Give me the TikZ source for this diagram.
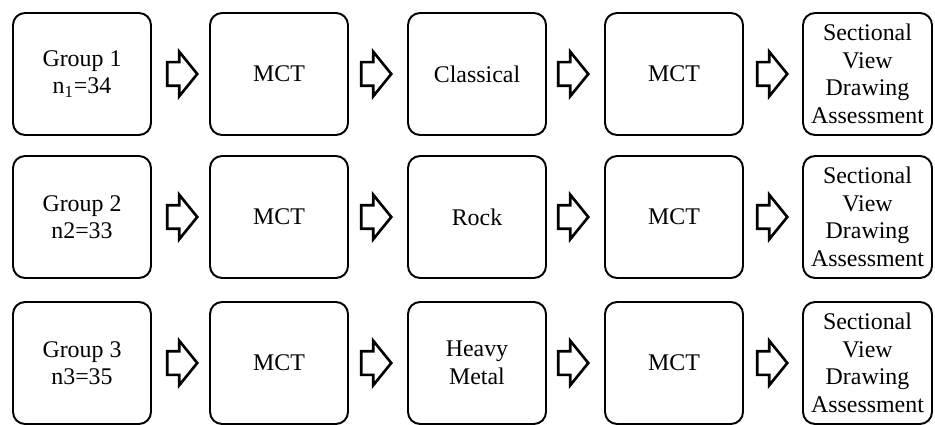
\documentclass[tikz,border=0pt]{standalone}
\usepackage{fontspec}
\setmainfont{Liberation Serif}
\usetikzlibrary{shapes.arrows}
\tikzset{
	box/.style={draw, line width=1.1pt, rounded corners=0.24cm, minimum width=2.76cm, minimum height=2.44cm, align=center, inner sep=0pt, font=\fontsize{13.6}{15.7}\selectfont},
	lastbox/.style={box, minimum width=2.58cm},
	blockarrow/.style={single arrow, draw, line width=1.5pt, anchor=tail, text height=0.42cm, text depth=0pt, inner sep=0pt, minimum height=0.6cm, single arrow head extend=0.21cm, single arrow tip angle=102}
}
\begin{document}
\begin{tikzpicture}[x=0.02cm, y=-0.02cm]
	\useasboundingbox (0,0) rectangle (935,425);
	\foreach \r/\y/\g/\t in {1/74/{Group 1\\n\textsubscript{1}=34}/Classical, 2/217/{Group 2\\n2=33}/Rock, 3/363/{Group 3\\n3=35}/{Heavy\\Metal}}{
		\node[box] (g\r) at (82,\y) {\g};
		\node[box] (m\r) at (279,\y) {MCT};
		\node[box] (t\r) at (477,\y) {\t};
		\node[box] (p\r) at (674,\y) {MCT};
		\node[lastbox] (s\r) at (867.5,\y) {Sectional\\View\\Drawing\\Assessment};
		% block arrows between the boxes
		\node[blockarrow] (a\r1) at ([xshift=0.28cm]g\r.east) {};
		\node[blockarrow] (a\r2) at ([xshift=0.22cm]m\r.east) {};
		\node[blockarrow] (a\r3) at ([xshift=0.2cm]t\r.east) {};
		\node[blockarrow] (a\r4) at ([xshift=0.24cm]p\r.east) {};
	}
\end{tikzpicture}
\end{document}
